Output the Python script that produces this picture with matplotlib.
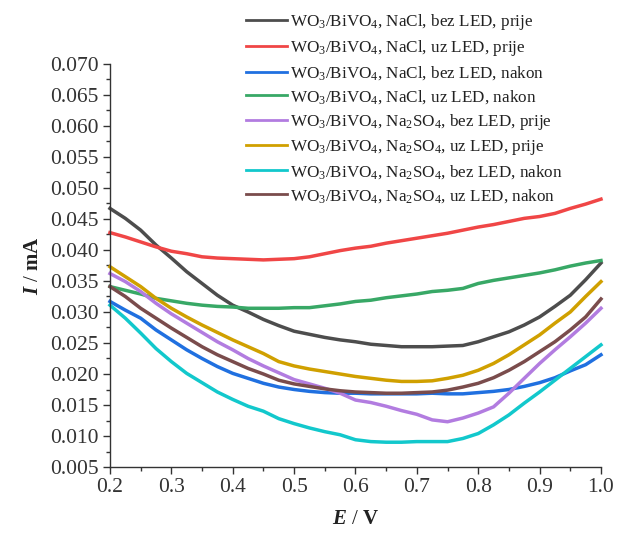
import matplotlib
matplotlib.use('Agg')
import matplotlib.pyplot as plt

plt.rcParams['font.family'] = ['Liberation Serif', 'DejaVu Serif']
plt.rcParams['mathtext.fontset'] = 'custom'
plt.rcParams['mathtext.rm'] = 'Liberation Serif'
plt.rcParams['mathtext.it'] = 'Liberation Serif:italic'
plt.rcParams['mathtext.bf'] = 'Liberation Serif:bold'
plt.rcParams['mathtext.bfit'] = 'Liberation Serif:italic:bold'

# potential, V
E = [0.200, 0.225, 0.250, 0.275, 0.300, 0.325, 0.350, 0.375, 0.400, 0.425, 0.450,
     0.475, 0.500, 0.525, 0.550, 0.575, 0.600, 0.625, 0.650, 0.675, 0.700, 0.725,
     0.750, 0.775, 0.800, 0.825, 0.850, 0.875, 0.900, 0.925, 0.950, 0.975, 1.000]

# current, mA
nacl_bez_prije = [0.0467, 0.0451, 0.0432, 0.0408, 0.0387, 0.0365, 0.0346, 0.0327, 0.0311, 0.0300, 0.0288,
                  0.0278, 0.0269, 0.0264, 0.0259, 0.0255, 0.0252, 0.0248, 0.0246, 0.0244, 0.0244, 0.0244,
                  0.0245, 0.0246, 0.0252, 0.0260, 0.0268, 0.0279, 0.0292, 0.0309, 0.0327, 0.0352, 0.0379]
nacl_uz_prije = [0.0428, 0.0421, 0.0413, 0.0405, 0.0398, 0.0394, 0.0389, 0.0387, 0.0386, 0.0385, 0.0384,
                 0.0385, 0.0386, 0.0389, 0.0394, 0.0399, 0.0403, 0.0406, 0.0411, 0.0415, 0.0419, 0.0423,
                 0.0427, 0.0432, 0.0437, 0.0441, 0.0446, 0.0451, 0.0454, 0.0459, 0.0467, 0.0474, 0.0482]
nacl_bez_nakon = [0.0317, 0.0303, 0.0290, 0.0271, 0.0255, 0.0239, 0.0225, 0.0212, 0.0201, 0.0193, 0.0185,
                  0.0179, 0.0175, 0.0172, 0.0170, 0.0169, 0.0169, 0.0168, 0.0168, 0.0168, 0.0168, 0.0169,
                  0.0168, 0.0168, 0.0170, 0.0172, 0.0175, 0.0180, 0.0186, 0.0194, 0.0205, 0.0215, 0.0231]
nacl_uz_nakon = [0.0341, 0.0335, 0.0329, 0.0322, 0.0318, 0.0314, 0.0311, 0.0309, 0.0308, 0.0306, 0.0306,
                 0.0306, 0.0307, 0.0307, 0.0310, 0.0313, 0.0317, 0.0319, 0.0323, 0.0326, 0.0329, 0.0333,
                 0.0335, 0.0338, 0.0346, 0.0351, 0.0355, 0.0359, 0.0363, 0.0368, 0.0374, 0.0379, 0.0383]
na2so4_bez_prije = [0.0362, 0.0349, 0.0333, 0.0314, 0.0297, 0.0282, 0.0267, 0.0252, 0.0239, 0.0225, 0.0213,
                    0.0202, 0.0191, 0.0184, 0.0177, 0.0169, 0.0158, 0.0154, 0.0148, 0.0141, 0.0135, 0.0126,
                    0.0123, 0.0129, 0.0137, 0.0147, 0.0169, 0.0193, 0.0217, 0.0239, 0.0260, 0.0282, 0.0306]
na2so4_uz_prije = [0.0373, 0.0357, 0.0341, 0.0322, 0.0306, 0.0292, 0.0279, 0.0267, 0.0255, 0.0244, 0.0233,
                   0.0220, 0.0213, 0.0208, 0.0204, 0.0200, 0.0196, 0.0193, 0.0190, 0.0188, 0.0188, 0.0189,
                   0.0193, 0.0198, 0.0206, 0.0217, 0.0231, 0.0247, 0.0263, 0.0282, 0.0300, 0.0325, 0.0349]
na2so4_bez_nakon = [0.0311, 0.0290, 0.0266, 0.0241, 0.0220, 0.0201, 0.0186, 0.0171, 0.0159, 0.0148, 0.0140,
                    0.0128, 0.0120, 0.0113, 0.0107, 0.0102, 0.0094, 0.0091, 0.0090, 0.0090, 0.0091, 0.0091,
                    0.0091, 0.0096, 0.0104, 0.0118, 0.0134, 0.0153, 0.0171, 0.0190, 0.0209, 0.0228, 0.0247]
na2so4_uz_nakon = [0.0341, 0.0325, 0.0306, 0.0290, 0.0274, 0.0259, 0.0244, 0.0231, 0.0220, 0.0209, 0.0200,
                   0.0190, 0.0184, 0.0180, 0.0176, 0.0173, 0.0171, 0.0170, 0.0169, 0.0169, 0.0170, 0.0171,
                   0.0174, 0.0179, 0.0185, 0.0194, 0.0206, 0.0220, 0.0236, 0.0252, 0.0271, 0.0292, 0.0321]

labels = [
    r'WO$_3$/BiVO$_4$, NaCl, bez LED, prije',
    r'WO$_3$/BiVO$_4$, NaCl, uz LED, prije',
    r'WO$_3$/BiVO$_4$, NaCl, bez LED, nakon',
    r'WO$_3$/BiVO$_4$, NaCl, uz LED, nakon',
    r'WO$_3$/BiVO$_4$, Na$_2$SO$_4$, bez LED, prije',
    r'WO$_3$/BiVO$_4$, Na$_2$SO$_4$, uz LED, prije',
    r'WO$_3$/BiVO$_4$, Na$_2$SO$_4$, bez LED, nakon',
    r'WO$_3$/BiVO$_4$, Na$_2$SO$_4$, uz LED, nakon',
]
series = [nacl_bez_prije, nacl_uz_prije, nacl_bez_nakon, nacl_uz_nakon,
          na2so4_bez_prije, na2so4_uz_prije, na2so4_bez_nakon, na2so4_uz_nakon]
colors = ['#4d4d4d', '#f04646', '#2070e0', '#38a866',
          '#b27ce0', '#d0a000', '#12c8cc', '#7a4c4c']

fig = plt.figure(figsize=(6.22, 5.33), dpi=100)
ax = fig.add_axes([0.1768, 0.1238, 0.7894, 0.7562])

for y, c, lab in zip(series, colors, labels):
    ax.plot(E, y, color=c, lw=2.5, label=lab, clip_on=False,
            solid_joinstyle='round')

ax.set_xlim(0.2, 1.0)
ax.set_ylim(0.005, 0.070)
ax.set_xticks([0.2, 0.3, 0.4, 0.5, 0.6, 0.7, 0.8, 0.9, 1.0])
ax.set_xticks([0.25, 0.35, 0.45, 0.55, 0.65, 0.75, 0.85, 0.95], minor=True)
ax.set_yticks([0.005 + 0.005 * i for i in range(14)])
ax.set_yticks([0.0075 + 0.005 * i for i in range(13)], minor=True)
ax.xaxis.set_major_formatter(matplotlib.ticker.FormatStrFormatter('%.1f'))
ax.yaxis.set_major_formatter(matplotlib.ticker.FormatStrFormatter('%.3f'))

for s in ['top', 'right']:
    ax.spines[s].set_visible(False)
for s in ['left', 'bottom']:
    ax.spines[s].set_color('#333333')
    ax.spines[s].set_linewidth(1.0)
ax.tick_params(which='major', direction='out', length=5, width=1, color='#333333',
               labelsize=15.5, labelcolor='#333333', pad=3)
ax.tick_params(which='minor', direction='out', length=3, width=1, color='#333333')

ax.set_xlabel(r'$\mathbfit{E}$ / $\mathbf{V}$', fontsize=15, color='#222222', labelpad=9)
ax.set_ylabel(r'$\mathbfit{I}$ / $\mathbf{mA}$', fontsize=15, color='#222222', labelpad=5)

leg = fig.legend(loc='upper left', bbox_to_anchor=(246 / 622, 1 - 12 / 533),
                 frameon=False, fontsize=12.3, handlelength=2.4, handletextpad=0.15,
                 labelspacing=0.355, borderpad=0, borderaxespad=0, labelcolor='#222222')
for h in leg.get_lines():
    h.set_linewidth(2.0)

fig.savefig('out.png', dpi=100)
